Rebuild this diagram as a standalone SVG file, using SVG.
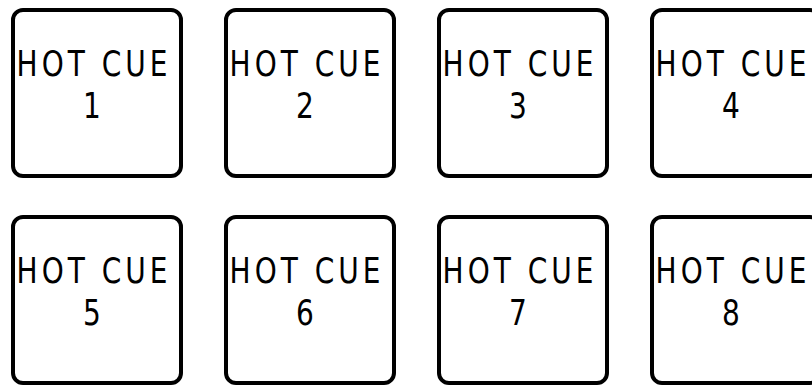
<svg xmlns="http://www.w3.org/2000/svg" width="812" height="386" viewBox="0 0 812 386">
<style>
.pad{fill:#fff;stroke:#000;stroke-width:4}
.t{font-family:"DejaVu Sans",sans-serif;font-size:35px;fill:#000;text-anchor:middle;letter-spacing:5px}
</style>
<rect width="812" height="386" fill="#fff"/>
<g id="pad1"><rect class="pad" x="13" y="10" width="168" height="166" rx="10"/><g transform="translate(94,0) scale(0.8,1)"><text class="t" x="0" y="76">HOT CUE</text><text class="t" x="0" y="118">1</text></g></g>
<g id="pad2"><rect class="pad" x="226" y="10" width="168" height="166" rx="10"/><g transform="translate(307,0) scale(0.8,1)"><text class="t" x="0" y="76">HOT CUE</text><text class="t" x="0" y="118">2</text></g></g>
<g id="pad3"><rect class="pad" x="439" y="10" width="168" height="166" rx="10"/><g transform="translate(520,0) scale(0.8,1)"><text class="t" x="0" y="76">HOT CUE</text><text class="t" x="0" y="118">3</text></g></g>
<g id="pad4"><rect class="pad" x="652" y="10" width="168" height="166" rx="10"/><g transform="translate(733,0) scale(0.8,1)"><text class="t" x="0" y="76">HOT CUE</text><text class="t" x="0" y="118">4</text></g></g>
<g id="pad5"><rect class="pad" x="13" y="217" width="168" height="166" rx="10"/><g transform="translate(94,0) scale(0.8,1)"><text class="t" x="0" y="283">HOT CUE</text><text class="t" x="0" y="325">5</text></g></g>
<g id="pad6"><rect class="pad" x="226" y="217" width="168" height="166" rx="10"/><g transform="translate(307,0) scale(0.8,1)"><text class="t" x="0" y="283">HOT CUE</text><text class="t" x="0" y="325">6</text></g></g>
<g id="pad7"><rect class="pad" x="439" y="217" width="168" height="166" rx="10"/><g transform="translate(520,0) scale(0.8,1)"><text class="t" x="0" y="283">HOT CUE</text><text class="t" x="0" y="325">7</text></g></g>
<g id="pad8"><rect class="pad" x="652" y="217" width="168" height="166" rx="10"/><g transform="translate(733,0) scale(0.8,1)"><text class="t" x="0" y="283">HOT CUE</text><text class="t" x="0" y="325">8</text></g></g>
<g id="connectors"></g>
</svg>
